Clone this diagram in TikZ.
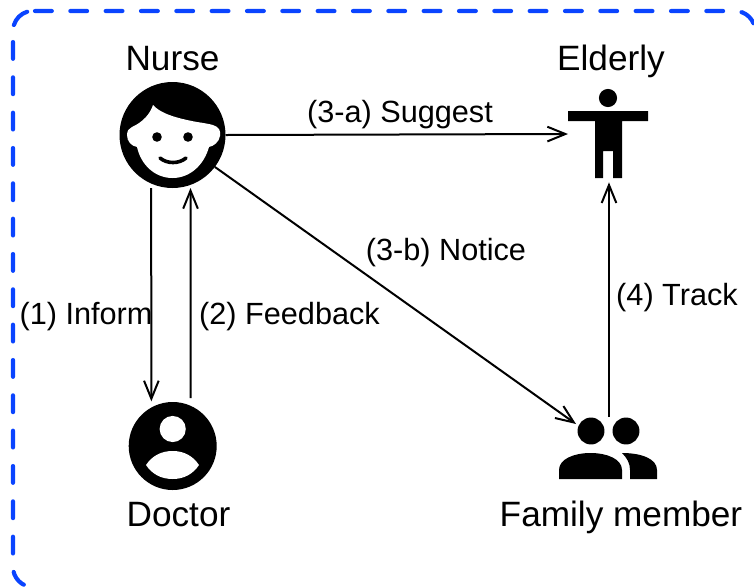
\documentclass[tikz,border=0pt]{standalone}
\usepackage{fontspec}
\setmainfont{Liberation Sans}
\usetikzlibrary{arrows.meta}
\definecolor{frameblue}{RGB}{10,68,255}
\tikzset{
  framedash/.style={draw=frameblue,line width=3.1pt,line cap=round,dash pattern=on 12.6pt off 13.9pt},
  iconbox/.style={inner sep=0pt,outer sep=0pt},
  disc/.style={circle,fill=black,iconbox},
  title/.style={inner sep=0pt,anchor=base,font=\fontsize{26.4}{30}\selectfont},
  edgelabel/.style={inner sep=0pt,anchor=base,font=\fontsize{23}{27}\selectfont},
  link/.style={draw=black,line width=1.5pt,-{Straight Barb[length=13.5pt,width=11pt,line width=1.5pt]}}
}
\begin{document}
\begin{tikzpicture}[x=0.75pt,y=-0.75pt]
\useasboundingbox (0,0) rectangle (754,587);
% frame
\draw[framedash] (35,11) -- (735,11) arc[start angle=270,end angle=360,radius=20];
\draw[framedash] (13,42) -- (13,567) arc[start angle=180,end angle=90,radius=20];
\draw[draw=frameblue,line width=3.1pt,line cap=round] (13.9,25) arc[start angle=197,end angle=253,radius=20];
% nurse
\node[disc,minimum size=79.5pt] (nurse) at (172.5,135) {};
\fill[white] (132,127) .. controls (143,122) and (150,114) .. (153,105)
  .. controls (160,113) and (175,118) .. (197,122)
  .. controls (204,123) and (209,124) .. (213,125)
  .. controls (219,127) and (221,131) .. (220,136)
  .. controls (219,142) and (214,146) .. (209,147)
  .. controls (204,165) and (190,178) .. (172.5,178)
  .. controls (155,178) and (141,165) .. (137,147)
  .. controls (131,146) and (127,141) .. (127,135)
  .. controls (127,131) and (129,128) .. (132,127) -- cycle;
\fill[black] (157,137) circle[radius=3.6pt] (188,137) circle[radius=3.6pt];
\draw[black,line width=2.7pt,line cap=round] (160,158) .. controls (167,164) and (179,164) .. (186,158);
% doctor
\node[disc,minimum size=66pt] (doctor) at (172.7,446) {};
\fill[white] (172.7,429) circle[radius=9.8pt];
\fill[white] (146,465) .. controls (152,456) and (161,451) .. (172.7,451)
  .. controls (184,451) and (193,456) .. (199,465)
  .. controls (193,474) and (184,479) .. (172.7,479)
  .. controls (161,479) and (152,474) .. (146,465) -- cycle;
% elderly
\node[iconbox,minimum width=60pt,minimum height=67.5pt] (elderly) at (608,134) {};
\fill[black] (608,98) circle[radius=6.8pt];
\fill[black] (568,111) -- (648,111) -- (648,121) -- (622,121) -- (622,178) -- (613,178) -- (613,151)
  -- (603,151) -- (603,178) -- (595,178) -- (595,121) -- (568,121) -- cycle;
% family
\node[iconbox,minimum width=73.5pt,minimum height=46.5pt] (family) at (608,448) {};
\fill[black] (591,431) circle[radius=10.1pt] (626,431) circle[radius=10.1pt];
\fill[black] (559,479) -- (559,470) .. controls (559,459) and (574,453) .. (590.5,453)
  .. controls (607,453) and (622,459) .. (622,470) -- (622,479) -- cycle;
\fill[black] (622,453) .. controls (642,453) and (657,459) .. (657,470) -- (657,479) -- (630,479) -- (630,470)
  .. controls (630,463) and (627,458) .. (622,453) -- cycle;
\coordinate (familytip) at (576,424);
% connectors
\draw[link] ([xshift=-16pt]nurse.south) -- ([xshift=-16pt,yshift=0.5pt]doctor.north);
\draw[link] ([xshift=13.5pt,yshift=3pt]doctor.north) -- ([xshift=13.5pt]nurse.south);
\draw[link] (nurse.east) -- (elderly.west);
\draw[link] (nurse.-37) -- (familytip);
\draw[link] ([xshift=0.75pt]family.north) -- ([xshift=0.75pt,yshift=-2.5pt]elderly.south);
% labels
\node[title] (tnurse) at (172.5,70) {Nurse};
\node[title] (telderly) at (611,70) {Elderly};
\node[title] (tdoctor) at (178.5,526) {Doctor};
\node[title] (tfamily) at (621,526) {Family member};
\node[edgelabel] (lsuggest) at (400,122) {(3-a) Suggest};
\node[edgelabel] (lnotice) at (446,260) {(3-b) Notice};
\node[edgelabel] (linform) at (86,324) {(1) Inform};
\node[edgelabel] (lfeedback) at (289.5,324) {(2) Feedback};
\node[edgelabel] (ltrack) at (677,305) {(4) Track};
\end{tikzpicture}
\end{document}
